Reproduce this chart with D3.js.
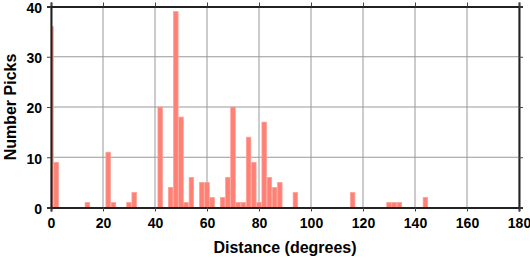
<!DOCTYPE html>
<html><head><meta charset="utf-8">
<script src="https://cdn.jsdelivr.net/npm/d3@7"></script>
<style>body{margin:0;background:#fff}svg{display:block}</style>
</head><body>
<svg id="c" width="530" height="258"></svg>
<script>
const binCenters = [0,2,14,22,24,30,32,42,46,48,50,52,54,58,60,62,66,68,70,72,74,76,78,80,82,84,86,88,94,116,130,132,134,144];
const counts     = [36,9,1,11,1,1,3,20,4,39,18,1,6,5,5,2,2,6,20,1,1,14,9,1,17,6,4,5,3,3,1,1,1,2];
const xTicks = [0,20,40,60,80,100,120,140,160,180];
const yTicks = [0,10,20,30,40];
const binWidth = 2;

const svg = d3.select("#c");
const L=51, R=519, T=6.5, B=207.5;
const x = d3.scaleLinear().domain([0,180]).range([L,R]);
const y = d3.scaleLinear().domain([0,40]).range([B,T]);

const g = svg.append("g");
g.selectAll(".vg").data(xTicks).enter().append("line")
  .attr("x1",d=>x(d)).attr("x2",d=>x(d)).attr("y1",T).attr("y2",B)
  .attr("stroke","#999").attr("stroke-width",1);
g.selectAll(".hg").data(yTicks).enter().append("line")
  .attr("x1",L).attr("x2",R).attr("y1",d=>y(d)).attr("y2",d=>y(d))
  .attr("stroke","#999").attr("stroke-width",1);

const data = binCenters.map((c,i)=>({c, n:counts[i]}));
g.selectAll(".bar").data(data).enter().append("rect")
  .attr("x",d=>x(Math.max(0,d.c-binWidth/2))+0.3)
  .attr("width",d=>x(d.c+binWidth/2)-x(Math.max(0,d.c-binWidth/2))-0.6)
  .attr("y",d=>y(d.n))
  .attr("height",d=>y(0)-y(d.n))
  .attr("fill","#ff8075").attr("stroke","#ffa198").attr("stroke-width",0.7);

const font = "'Liberation Sans', Arial, sans-serif";
const xb = svg.append("g").attr("transform",`translate(0,${B})`)
  .call(d3.axisBottom(x).tickValues(xTicks).tickSize(4).tickPadding(7));
const xt = svg.append("g").attr("transform",`translate(0,${T})`)
  .call(d3.axisTop(x).tickValues(xTicks).tickSize(4).tickFormat(""));
const yl = svg.append("g").attr("transform",`translate(${L},0)`)
  .call(d3.axisLeft(y).tickValues(yTicks).tickSize(4).tickPadding(5));
const yr = svg.append("g").attr("transform",`translate(${R},0)`)
  .call(d3.axisRight(y).tickValues(yTicks).tickSize(4).tickFormat(""));
[xb,xt,yl,yr].forEach(a=>{
  a.select(".domain").attr("stroke","#222").attr("stroke-width",2);
  a.selectAll(".tick line").attr("stroke","#444").attr("stroke-width",1);
  a.selectAll("text").attr("font-family",font).attr("font-weight","bold")
   .attr("font-size",14).attr("fill","#000");
});
xb.selectAll("text").attr("dy","0.71em");
yl.selectAll("text").attr("dy","0.42em");

svg.append("text").attr("x",(L+R)/2).attr("y",252.5)
  .attr("text-anchor","middle").attr("font-family",font).attr("font-weight","bold")
  .attr("font-size",16).text("Distance (degrees)");
svg.append("text").attr("transform",`translate(16,${(T+B)/2}) rotate(-90)`)
  .attr("text-anchor","middle").attr("font-family",font).attr("font-weight","bold")
  .attr("font-size",16).text("Number Picks");
</script>
</body></html>
